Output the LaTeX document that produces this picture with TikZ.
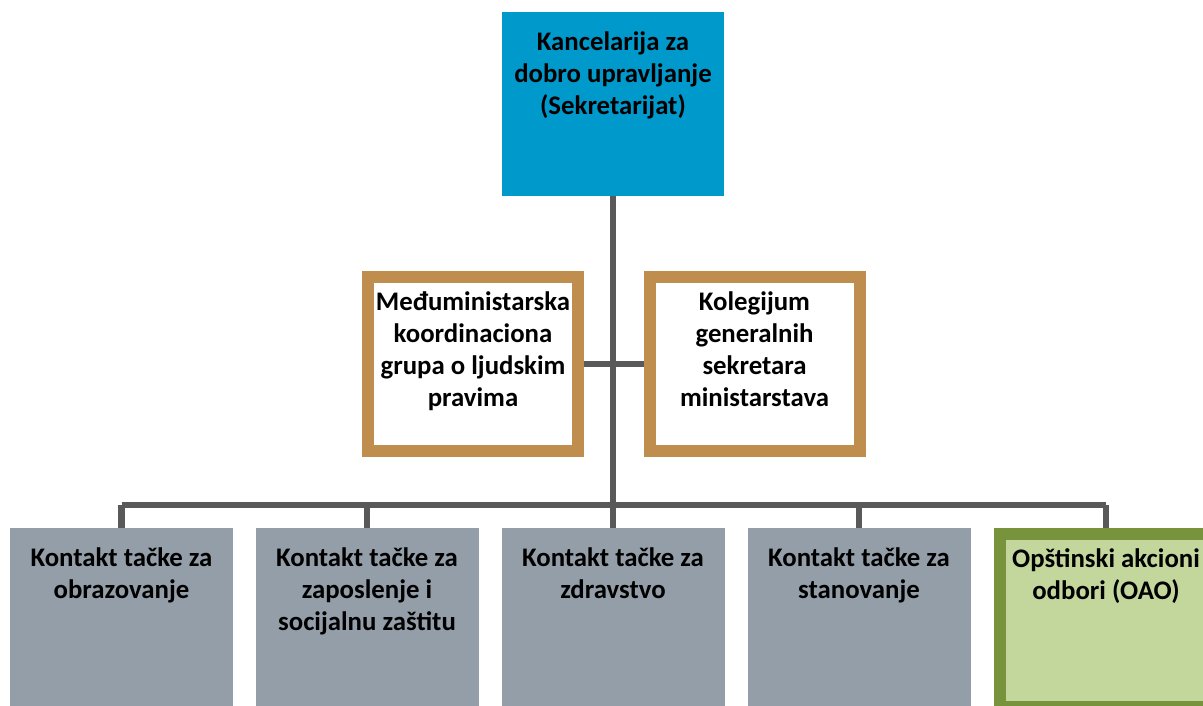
\documentclass[tikz,border=0pt]{standalone}
\usepackage{fontspec}
\setmainfont{Carlito}
\usetikzlibrary{backgrounds}
\definecolor{secblue}{RGB}{0,153,204}
\definecolor{linegray}{RGB}{89,89,89}
\definecolor{boxgray}{RGB}{148,158,168}
\definecolor{brownb}{RGB}{191,141,77}
\definecolor{greenb}{RGB}{119,147,60}
\definecolor{greenf}{RGB}{195,214,155}
\begin{document}
\begin{tikzpicture}[x=1pt,y=-1pt,
  boxbase/.style={rectangle, inner sep=0pt},
  topbox/.style={boxbase, fill=secblue, minimum width=222pt, minimum height=184pt},
  midbox/.style={boxbase, draw=brownb, fill=white, line width=12pt, minimum width=210pt, minimum height=174pt},
  graybox/.style={boxbase, fill=boxgray, minimum width=223pt, minimum height=200pt},
  greenbox/.style={boxbase, draw=greenb, fill=greenf, line width=12pt, minimum width=212pt, minimum height=173pt},
  lbl/.style={align=center, anchor=north, inner sep=0pt, font=\fontsize{26.8}{32}\selectfont\bfseries},
  conn/.style={draw=linegray, line width=6.5pt}
]
\useasboundingbox (0,0) rectangle (1203,705);
\clip (0,0) rectangle (1203,705);
% boxes
\node[topbox] (sec) at (613,104) {};
\node[midbox] (mg) at (473,364) {};
\node[midbox] (kg) at (754.5,364) {};
\node[graybox] (b1) at (121.5,628) {};
\node[graybox] (b2) at (367,628) {};
\node[graybox] (b3) at (613,628) {};
\node[graybox] (b4) at (859,628) {};
\node[greenbox] (b5) at (1106,620.5) {};
\coordinate (bus) at (613,505);
% connectors
\begin{scope}[on background layer]
\draw[conn] (sec.south) -- (sec.south |- bus);
\draw[conn] (b1.north |- bus) -- (b5.north |- bus);
\draw[conn] (mg.east) -- (kg.west);
\foreach \n in {b1,b2,b3,b4,b5} {
  \draw[conn] (\n.north |- bus) -- (\n.north);
}
\end{scope}
% labels
\node[lbl] (tsec) at ([yshift=-20pt]sec.north) {Kancelarija za\\dobro upravljanje\\(Sekretarijat)};
\node[lbl] (tmg) at ([yshift=-20pt]mg.north) {Međuministarska\\koordinaciona\\grupa o ljudskim\\pravima};
\node[lbl] (tkg) at ([yshift=-20pt]kg.north) {Kolegijum\\generalnih\\sekretara\\ministarstava};
\node[lbl] (tb1) at ([yshift=-20pt]b1.north) {Kontakt tačke za\\obrazovanje};
\node[lbl] (tb2) at ([yshift=-20pt]b2.north) {Kontakt tačke za\\zaposlenje i\\socijalnu zaštitu};
\node[lbl] (tb3) at ([yshift=-20pt]b3.north) {Kontakt tačke za\\zdravstvo};
\node[lbl] (tb4) at ([yshift=-20pt]b4.north) {Kontakt tačke za\\stanovanje};
\node[lbl] (tb5) at ([yshift=-20pt]b5.north) {Opštinski akcioni\\odbori (OAO)};
\end{tikzpicture}
\end{document}
